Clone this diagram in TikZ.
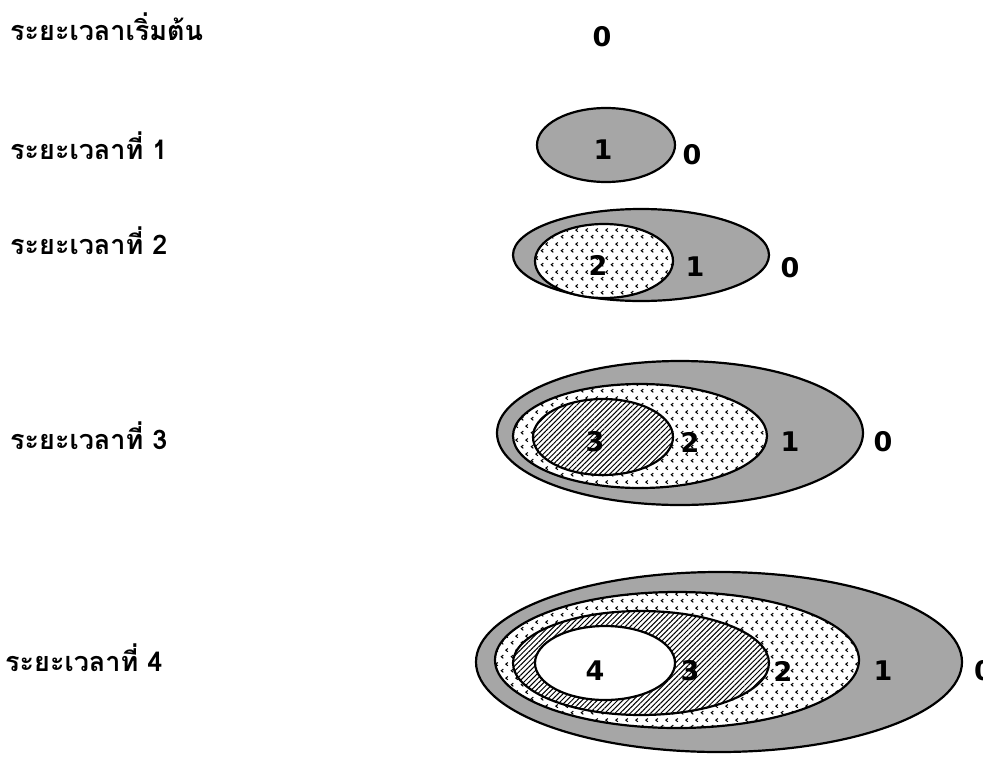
\documentclass[tikz,border=0pt]{standalone}
\usepackage{fontspec}
\setmainfont{DejaVu Sans}
\newfontfamily\thaifont[Script=Thai]{Loma}
\usetikzlibrary{shapes.geometric,patterns,patterns.meta}
\pgfdeclarepatternformonly{chev}{\pgfpointorigin}{\pgfpoint{10pt}{14pt}}{\pgfpoint{10pt}{14pt}}{%
  \pgfsetlinewidth{1.1pt}%
  \pgfpathmoveto{\pgfpoint{3.6pt}{1.8pt}}\pgfpathlineto{\pgfpoint{1.4pt}{3.5pt}}\pgfpathlineto{\pgfpoint{3.6pt}{5.2pt}}%
  \pgfpathmoveto{\pgfpoint{8.6pt}{8.8pt}}\pgfpathlineto{\pgfpoint{6.4pt}{10.5pt}}\pgfpathlineto{\pgfpoint{8.6pt}{12.2pt}}%
  \pgfusepath{stroke}}
\begin{document}
\begin{tikzpicture}[x=1pt,y=-1pt,
  lbl/.style={font=\thaifont\bfseries\fontsize{27}{31}\selectfont, anchor=base west, inner sep=0},
  num/.style={font=\bfseries\fontsize{27}{31}\selectfont, inner sep=0},
  ell/.style={ellipse, draw, line width=2.2pt, inner sep=0},
  gry/.style={ell, fill=gray!70},
  dotty/.style={ell, preaction={fill=white}, pattern=chev},
  hatch/.style={ell, preaction={fill=white}, pattern={Lines[angle=45,distance=3.6pt,line width=1pt]}},
  wht/.style={ell, fill=white}]
\useasboundingbox (0,0) rectangle (983,758);
% labels
\node[lbl] (t0) at (10,40) {ระยะเวลาเริ่มต้น};
\node[lbl] (t1) at (10,159) {ระยะเวลาที่ 1};
\node[lbl] (t2) at (10,254) {ระยะเวลาที่ 2};
\node[lbl] (t3) at (10,449) {ระยะเวลาที่ 3};
\node[lbl] (t4) at (5,671) {ระยะเวลาที่ 4};
% period 0
\node[num] (z0) at (602,37) {0};
% period 1
\node[gry, minimum width=138pt, minimum height=74pt] (e1a) at (606,145) {};
\node[num] (n1a) at (603,150) {1};
\node[num] (z1) at (692,155) {0};
% period 2
\node[gry, minimum width=256pt, minimum height=92pt] (e2a) at (641,255) {};
\node[dotty, minimum width=138pt, minimum height=74pt] (e2b) at (604,261) {};
\node[num] (n2b) at (598,265) {2};
\node[num] (n2a) at (695,267) {1};
\node[num] (z2) at (790,268) {0};
% period 3
\node[gry, minimum width=366pt, minimum height=144pt] (e3a) at (680,433) {};
\node[dotty, minimum width=254pt, minimum height=104pt] (e3b) at (640,436) {};
\node[hatch, minimum width=140pt, minimum height=76pt] (e3c) at (603,437) {};
\node[num] (n3c) at (595,442) {3};
\node[num] (n3b) at (690,442) {2};
\node[num] (n3a) at (790,442) {1};
\node[num] (z3) at (883,442) {0};
% period 4
\node[gry, minimum width=486pt, minimum height=180pt] (e4a) at (719,662) {};
\node[dotty, minimum width=364pt, minimum height=136pt] (e4b) at (677,660) {};
\node[hatch, minimum width=256pt, minimum height=104pt] (e4c) at (641,663) {};
\node[wht, minimum width=140pt, minimum height=74pt] (e4d) at (605,663) {};
\node[num] (n4d) at (595,671) {4};
\node[num] (n4c) at (690,671) {3};
\node[num] (n4b) at (783,671) {2};
\node[num] (n4a) at (883,671) {1};
\node[num, anchor=west] (z4) at (974,671) {0};
\end{tikzpicture}
\end{document}
